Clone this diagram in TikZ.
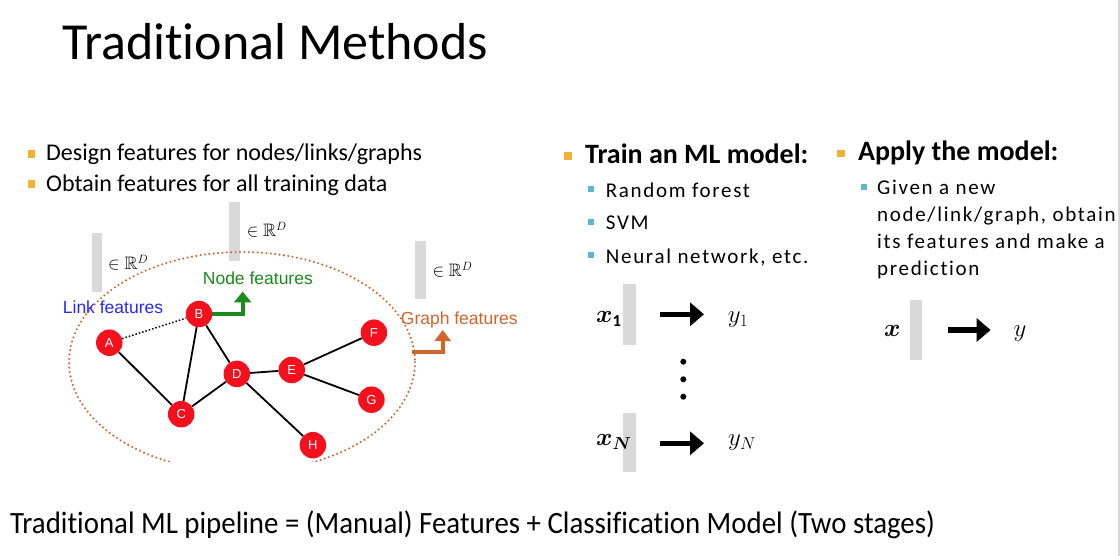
\documentclass[tikz,border=0pt]{standalone}
\usepackage{amsmath,amssymb,bm}
\usepackage{graphicx}
\usepackage{fontspec}
\setmainfont{Carlito}[Ligatures=NoCommon]
\newfontfamily\graphfont{Liberation Sans}
\newfontfamily\widefont[LetterSpace=8,Ligatures=NoCommon]{Carlito}
\usetikzlibrary{arrows.meta}

\definecolor{bulletorange}{HTML}{F2B134}
\definecolor{bulletblue}{HTML}{5FB6D0}
\definecolor{barg}{HTML}{D9D9D9}
\definecolor{nodered}{HTML}{F5101E}
\definecolor{featgreen}{HTML}{1C8A1C}
\definecolor{linkblue}{HTML}{2828FF}
\definecolor{graphorange}{HTML}{D2642C}
\definecolor{edgegray}{HTML}{D6D6D6}

\begin{document}
\begin{tikzpicture}[x=1pt,y=-1pt,
  txt/.style={anchor=base west, inner sep=0pt},
  sqbullet/.style={fill=bulletorange, minimum size=7.5pt, inner sep=0pt},
  subbullet/.style={fill=bulletblue, minimum size=6pt, inner sep=0pt},
  featbar/.style={fill=barg, inner sep=0pt},
  gnode/.style={circle, fill=nodered, minimum size=26.5pt, inner sep=0pt, text=white,
    font=\graphfont\fontsize{13}{13}\selectfont},
  gedge/.style={line width=1.8pt, black},
  bigarrow/.style={line width=5.5pt, -{Triangle[length=14pt,width=23pt]}},
  bodytext/.style={txt, font=\fontsize{24}{28}\selectfont},
  headtext/.style={txt, font=\bfseries\fontsize{28}{32}\selectfont},
  subtext/.style={txt, font=\widefont\fontsize{21}{25}\selectfont},
  mathlabel/.style={txt, font=\fontsize{18}{18}\selectfont},
  vlabel/.style={txt, font=\fontsize{24}{24}\selectfont},
  featlabel/.style={txt, font=\graphfont\fontsize{17.5}{18}\selectfont},
]
\useasboundingbox (0,0) rectangle (1120,556);
\fill[white] (0,0) rectangle (1120,556);
\draw[line width=2pt, edgegray] (1118.5,0) -- (1118.5,556);

% title
\node[txt, font=\fontsize{52}{60}\selectfont] (title) at (62,59.5) {Traditional Methods};

% left bullets
\node[sqbullet] (lb1) at (31.5,154) {};
\node[bodytext] (lt1) at (46,161) {Design features for nodes/links/graphs};
\node[sqbullet] (lb2) at (31.5,184) {};
\node[bodytext] (lt2) at (46,191.5) {Obtain features for all training data};

% training column
\node[sqbullet] (tb) at (568,156) {};
\node[headtext] (tt) at (585,163.3) {Train an ML model:};
\node[subbullet] (sb1) at (591.3,189.5) {};
\node[subtext] (st1) at (605.7,197.7) {Random forest};
\node[subbullet] (sb2) at (591.3,222) {};
\node[subtext] (st2) at (605.7,230) {SVM};
\node[subbullet] (sb3) at (591.3,255.5) {};
\node[subtext] (st3) at (605.7,263.3) {Neural network, etc.};

% apply column
\node[sqbullet] (ab) at (841,153.5) {};
\node[headtext] (at) at (858,160.7) {Apply the model:};
\node[subbullet] (gb) at (864,186.7) {};
\node[subtext] (g1) at (877,194.3) {Given a new};
\node[subtext] (g2) at (877,221.7) {node/link/graph, obtain};
\node[subtext] (g3) at (877,249) {its features and make a};
\node[subtext] (g4) at (877,275.9) {prediction};

% training samples
\node[featbar, minimum width=13pt, minimum height=61pt] (bx1) at (629.3,314.5) {};
\node[vlabel] (lx1) at (596,322.3) {$\boldsymbol{x}_{\mathbf{1}}$};
\coordinate (a1s) at (660,314.3);
\coordinate (a1e) at (704,314.3);
\draw[bigarrow] (a1s) -- (a1e);
\node[vlabel] (ly1) at (727.7,322.3) {$y_{1}$};

\fill (683.3,361.7) circle (3pt);
\fill (683.3,379.3) circle (3pt);
\fill (683.3,396.7) circle (3pt);

\node[featbar, minimum width=13pt, minimum height=59pt] (bxn) at (629.3,442.7) {};
\node[vlabel] (lxn) at (596,445.7) {$\boldsymbol{x}_{\boldsymbol{N}}$};
\coordinate (ans) at (660,443.3);
\coordinate (ane) at (704,443.3);
\draw[bigarrow] (ans) -- (ane);
\node[vlabel] (lyn) at (728,445.7) {$y_{N}$};

% applying the model
\node[featbar, minimum width=12.5pt, minimum height=60pt] (bx) at (916,330) {};
\node[vlabel] (lx) at (884,337) {$\boldsymbol{x}$};
\coordinate (aps) at (947.5,330);
\coordinate (ape) at (990.6,330);
\draw[bigarrow] (aps) -- (ape);
\node[vlabel] (ly) at (1013.5,337) {$y$};

% feature vectors
\node[featbar, minimum width=10.6pt, minimum height=58.7pt] (fb1) at (97,262.3) {};
\node[mathlabel] (fr1) at (108,270) {$\in \mathbb{R}^{D}$};
\node[featbar, minimum width=10.6pt, minimum height=58.7pt] (fb2) at (234.7,231.3) {};
\node[mathlabel] (fr2) at (246.7,236.7) {$\in \mathbb{R}^{D}$};
\node[featbar, minimum width=10.6pt, minimum height=58.3pt] (fb3) at (420.3,269.8) {};
\node[mathlabel] (fr3) at (432.3,277) {$\in \mathbb{R}^{D}$};

% whole-graph boundary
\begin{scope}
  \clip (0,0) rectangle (1120,461);
  \draw[graphorange, line width=2.3pt, line cap=round, dash pattern=on 0pt off 4.4pt]
    (242,362) ellipse [x radius=173, y radius=110];
\end{scope}

% graph
\node[gnode] (A) at (109.3,342.7) {A};
\node[gnode] (B) at (199,314) {B};
\node[gnode] (C) at (181.2,414.2) {C};
\node[gnode] (D) at (236.8,373.9) {D};
\node[gnode] (E) at (291.7,370) {E};
\node[gnode] (F) at (373.9,332.7) {F};
\node[gnode] (G) at (371.4,399.7) {G};
\node[gnode] (H) at (312.9,445.2) {H};

\draw[black, line width=1.5pt, dotted] (A) -- (B);
\draw[gedge] (A) -- (C);
\draw[gedge] (B) -- (C);
\draw[gedge] (B) -- (D);
\draw[gedge] (C) -- (D);
\draw[gedge] (D) -- (E);
\draw[gedge] (E) -- (F);
\draw[gedge] (E) -- (G);
\draw[gedge] (D) -- (H);

% feature labels and pointers
\node[featlabel, text=linkblue] (lf) at (62.7,314) {Link features};
\node[featlabel, text=featgreen] (nf) at (202.7,284.3) {Node features};
\node[featlabel, text=graphorange] (gf) at (400.7,325) {Graph features};

\coordinate (ntip) at (242.7,291.5);
\draw[featgreen, line width=4pt, -{Triangle[length=11pt,width=17pt]}] (B.east) -| (ntip);
\coordinate (gstart) at (411.7,352.3);
\coordinate (gtip) at (442.7,330);
\draw[graphorange, line width=4pt, -{Triangle[length=11pt,width=16pt]}] (gstart) -| (gtip);

% summary line
\node[txt, font=\fontsize{31}{36}\selectfont] (summary) at (10,533)
  {\resizebox{925pt}{\height}{Traditional ML pipeline = (Manual) Features + Classification Model (Two stages)}};
\end{tikzpicture}
\end{document}
